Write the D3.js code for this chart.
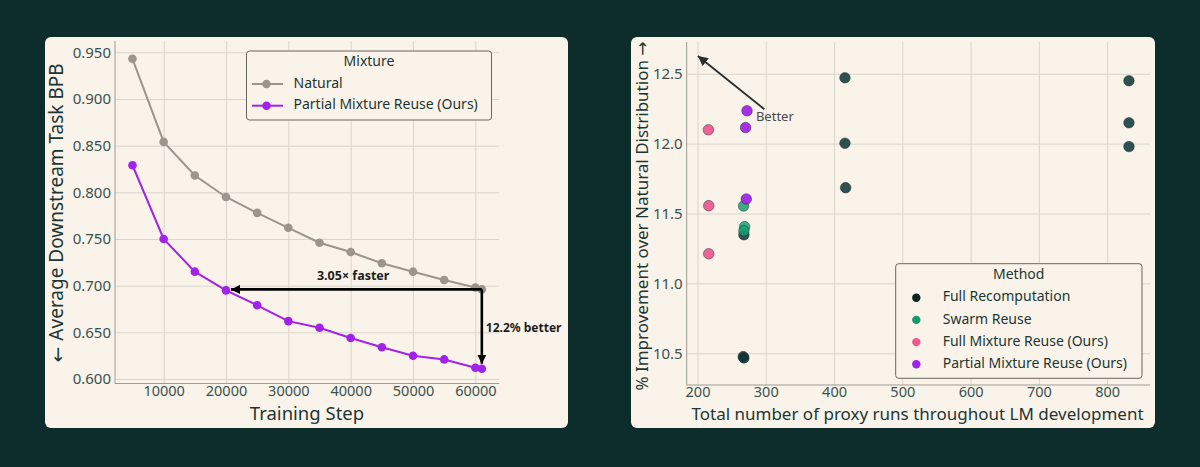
<!DOCTYPE html>
<html>
<head>
<meta charset="utf-8">
<script src="https://cdn.jsdelivr.net/npm/d3@7"></script>
<style>
  body { margin: 0; background: #0d2d2d; }
  text { font-family: "Noto Sans", sans-serif; }
</style>
</head>
<body>
<div id="plot"></div>
<script>
// ---- data: left chart (training curves)
const trainSteps = [5000, 10000, 15000, 20000, 25000, 30000, 35000, 40000, 45000, 50000, 55000, 60000, 61035];
const naturalBpb = [0.943, 0.854, 0.818, 0.795, 0.778, 0.762, 0.746, 0.736, 0.724, 0.715, 0.706, 0.698, 0.696];
const partialBpb = [0.829, 0.750, 0.715, 0.695, 0.679, 0.662, 0.655, 0.644, 0.634, 0.625, 0.621, 0.612, 0.611];
const stepTicks = [10000, 20000, 30000, 40000, 50000, 60000];
const bpbTicks = [0.60, 0.65, 0.70, 0.75, 0.80, 0.85, 0.90, 0.95];

// ---- data: right chart (proxy runs vs improvement)
const methods = ["Full Recomputation", "Swarm Reuse", "Full Mixture Reuse (Ours)", "Partial Mixture Reuse (Ours)"];
const fullRecompRuns = [416, 416, 417, 832, 832, 832, 268, 267, 268];
const fullRecompImpr = [12.471, 12.003, 11.685, 12.45, 12.149, 11.979, 11.348, 10.476, 10.467];
const swarmRuns = [267.5, 269, 268];
const swarmImpr = [11.554, 11.406, 11.377];
const fullMixRuns = [216, 216.5, 216.5];
const fullMixImpr = [12.099, 11.556, 11.212];
const partialMixRuns = [272.5, 270.5, 271.5];
const partialMixImpr = [12.235, 12.115, 11.604];
const runTicks = [200, 300, 400, 500, 600, 700, 800];
const imprTicks = [10.5, 11.0, 11.5, 12.0, 12.5];

const w = 1200;
const h = 467;
const cream = "#faf3ea";
const tickColor = "#38524f";
const titleColor = "#1c3633";
const gridColor = "#dad6cc";
const spineColor = "#9c9c94";

const svg = d3.select("div#plot")
    .append("svg")
    .attr("width", w)
    .attr("height", h);

svg.append("rect")
    .attr("width", w)
    .attr("height", h)
    .attr("fill", "#0d2d2d");

// panels
svg.append("rect").attr("x", 45).attr("y", 37).attr("width", 523).attr("height", 391)
    .attr("rx", 6).attr("fill", cream);
svg.append("rect").attr("x", 631).attr("y", 37).attr("width", 524).attr("height", 391)
    .attr("rx", 6).attr("fill", cream);

const defs = svg.append("defs");
function arrowHead(id, color, size) {
  defs.append("marker")
      .attr("id", id)
      .attr("viewBox", "0 0 10 10")
      .attr("refX", 10).attr("refY", 5)
      .attr("markerWidth", size).attr("markerHeight", size)
      .attr("markerUnits", "userSpaceOnUse")
      .attr("orient", "auto")
    .append("path")
      .attr("d", "M0,0 L10,5 L0,10 z")
      .attr("fill", color);
}
arrowHead("headBlack", "#000", 9);
arrowHead("headDark", "#2a2f2d", 10);

// generic frame: grid, spines, tick labels
function drawFrame(g, x, y, xTicks, yTicks, xFmt, yFmt) {
  const [x0, x1] = x.range();
  const [y0, y1] = y.range();

  g.append("g")
      .attr("transform", `translate(0, ${y0})`)
      .call(d3.axisBottom(x).tickValues(xTicks).tickSize(-(y0 - y1)).tickFormat(""))
      .call(a => a.select(".domain").remove())
      .call(a => a.selectAll("line").attr("stroke", gridColor));

  g.append("g")
      .attr("transform", `translate(${x0}, 0)`)
      .call(d3.axisLeft(y).tickValues(yTicks).tickSize(-(x1 - x0)).tickFormat(""))
      .call(a => a.select(".domain").remove())
      .call(a => a.selectAll("line").attr("stroke", gridColor));

  g.append("line").attr("x1", x0).attr("x2", x1).attr("y1", y0).attr("y2", y0)
      .attr("stroke", spineColor);
  g.append("line").attr("x1", x0).attr("x2", x0).attr("y1", y0).attr("y2", y1)
      .attr("stroke", spineColor);

  g.append("g")
      .attr("transform", `translate(0, ${y0})`)
      .call(d3.axisBottom(x).tickValues(xTicks).tickSize(0).tickPadding(2).tickFormat(xFmt))
      .call(a => a.select(".domain").remove())
      .call(a => a.selectAll("text").attr("fill", tickColor).style("font-size", "14.5px")
          .style("font-family", "'Noto Sans', sans-serif"));

  g.append("g")
      .attr("transform", `translate(${x0}, 0)`)
      .call(d3.axisLeft(y).tickValues(yTicks).tickSize(0).tickPadding(4).tickFormat(yFmt))
      .call(a => a.select(".domain").remove())
      .call(a => a.selectAll("text").attr("fill", tickColor).style("font-size", "15px")
          .style("font-family", "'Noto Sans', sans-serif"));
}

// text with an arrow glyph drawn in DejaVu (Noto's arrows are tiny)
function arrowTitle(sel, before, arrow, after) {
  if (before) sel.append("tspan").text(before);
  sel.append("tspan").style("font-family", "'DejaVu Sans', sans-serif").text(arrow);
  if (after) sel.append("tspan").text(after);
}

/////////////// left chart
const xL = d3.scaleLinear().domain([2198, 63837]).range([115, 499.3]);
const yL = d3.scaleLinear().domain([0.5952, 0.9621]).range([383.5, 41]);
const left = svg.append("g");
drawFrame(left, xL, yL, stepTicks, bpbTicks, d3.format("d"), d3.format(".3f"));

const lineL = d3.line().x((d, i) => xL(trainSteps[i])).y(d => yL(d));
const leftSeries = [
  {name: "Natural", values: naturalBpb, color: "#9a968e"},
  {name: "Partial Mixture Reuse (Ours)", values: partialBpb, color: "#a123ea"}
];

leftSeries.forEach(s => {
  left.append("path")
      .attr("d", lineL(s.values))
      .attr("fill", "none")
      .attr("stroke", s.color)
      .attr("stroke-width", 2);
  left.selectAll(null)
      .data(s.values)
    .enter().append("circle")
      .attr("cx", (d, i) => xL(trainSteps[i]))
      .attr("cy", d => yL(d))
      .attr("r", 4.3)
      .attr("fill", s.color);
});

// annotations
const lastStep = trainSteps[trainSteps.length - 1];
const lastNat = naturalBpb[naturalBpb.length - 1];
const lastPart = partialBpb[partialBpb.length - 1];
left.append("line")
    .attr("x1", xL(lastStep)).attr("y1", yL(lastNat))
    .attr("x2", xL(20000) + 5).attr("y2", yL(lastNat))
    .attr("stroke", "#000").attr("stroke-width", 2.6)
    .attr("marker-end", "url(#headBlack)");
left.append("line")
    .attr("x1", xL(lastStep)).attr("y1", yL(lastNat))
    .attr("x2", xL(lastStep)).attr("y2", yL(lastPart) - 5)
    .attr("stroke", "#000").attr("stroke-width", 2.6)
    .attr("marker-end", "url(#headBlack)");
left.append("text")
    .attr("x", xL(40400)).attr("y", yL(0.7095))
    .attr("text-anchor", "middle").attr("dominant-baseline", "middle")
    .attr("font-size", 12.5).attr("font-weight", "bold").attr("fill", "#1a1f1e")
    .text("3.05× faster");
left.append("text")
    .attr("x", xL(lastStep) + 4).attr("y", yL((lastNat + lastPart) / 2))
    .attr("dominant-baseline", "middle")
    .attr("font-size", 12).attr("font-weight", "bold").attr("fill", "#1a1f1e")
    .text("12.2% better");

// axis titles
left.append("text")
    .attr("x", 307).attr("y", 415).attr("text-anchor", "middle").attr("dominant-baseline", "middle")
    .attr("font-size", 18.5).attr("fill", titleColor)
    .text("Training Step");
left.append("text")
    .attr("transform", "translate(58, 213) rotate(-90)")
    .attr("text-anchor", "middle").attr("dominant-baseline", "middle")
    .attr("font-size", 19).attr("fill", titleColor)
    .call(arrowTitle, "", "← ", "Average Downstream Task BPB");

// legend
const legL = left.append("g").attr("transform", "translate(246.5, 51)");
legL.append("rect").attr("width", 245).attr("height", 69).attr("rx", 3)
    .attr("fill", cream).attr("stroke", "#67665f");
legL.append("text").attr("x", 122.5).attr("y", 11.5).attr("text-anchor", "middle")
    .attr("dominant-baseline", "middle").attr("font-size", 14).attr("fill", titleColor)
    .text("Mixture");
leftSeries.forEach((s, i) => {
  const ly = 33 + i * 21.7;
  legL.append("line").attr("x1", 5.5).attr("x2", 36.5).attr("y1", ly).attr("y2", ly)
      .attr("stroke", s.color).attr("stroke-width", 2);
  legL.append("circle").attr("cx", 20).attr("cy", ly).attr("r", 4.3).attr("fill", s.color);
  legL.append("text").attr("x", 47).attr("y", ly).attr("dominant-baseline", "middle")
      .attr("font-size", 14).attr("fill", titleColor).text(s.name);
});

/////////////// right chart
const xR = d3.scaleLinear().domain([184.2, 862.8]).range([686.7, 1150]);
const yR = d3.scaleLinear().domain([10.273, 12.727]).range([385, 42]);
const right = svg.append("g");
drawFrame(right, xR, yR, runTicks, imprTicks, d3.format("d"), d3.format(".1f"));

const rightSeries = [
  {name: methods[0], runs: fullRecompRuns, impr: fullRecompImpr, color: "#0a3235", legend: "#0c231f", op: 0.85},
  {name: methods[1], runs: swarmRuns, impr: swarmImpr, color: "#159f72", legend: "#14996c", op: 0.85},
  {name: methods[2], runs: fullMixRuns, impr: fullMixImpr, color: "#ec5a92", legend: "#ec5a92", op: 0.95},
  {name: methods[3], runs: partialMixRuns, impr: partialMixImpr, color: "#a024ea", legend: "#a024ea", op: 0.95}
];

rightSeries.forEach(s => {
  right.selectAll(null)
      .data(s.impr)
    .enter().append("circle")
      .attr("cx", (d, i) => xR(s.runs[i]))
      .attr("cy", d => yR(d))
      .attr("r", 5.3)
      .attr("fill", s.color)
      .attr("fill-opacity", s.op)
      .attr("stroke", "#2c2a2c")
      .attr("stroke-opacity", 0.6)
      .attr("stroke-width", 0.8);
});

// "Better" arrow
right.append("line")
    .attr("x1", xR(298)).attr("y1", yR(12.246))
    .attr("x2", xR(200.6)).attr("y2", yR(12.627))
    .attr("stroke", "#2a2f2d").attr("stroke-width", 1.8)
    .attr("marker-end", "url(#headDark)");
right.append("text")
    .attr("x", xR(285.6)).attr("y", yR(12.19))
    .attr("dominant-baseline", "middle")
    .attr("font-size", 13).attr("fill", "#4a4a46")
    .text("Better");

right.append("text")
    .attr("x", 917.5).attr("y", 415).attr("text-anchor", "middle").attr("dominant-baseline", "middle")
    .attr("font-size", 17).attr("fill", titleColor)
    .text("Total number of proxy runs throughout LM development");
right.append("text")
    .attr("transform", "translate(643, 216) rotate(-90)")
    .attr("text-anchor", "middle").attr("dominant-baseline", "middle")
    .attr("font-size", 17).attr("fill", titleColor)
    .call(arrowTitle, "% Improvement over Natural Distribution ", "→", "");

const legR = right.append("g").attr("transform", "translate(895.7, 263.7)");
legR.append("rect").attr("width", 246.3).attr("height", 114.6).attr("rx", 3)
    .attr("fill", cream).attr("stroke", "#67665f");
legR.append("text").attr("x", 123).attr("y", 12).attr("text-anchor", "middle")
    .attr("dominant-baseline", "middle").attr("font-size", 14).attr("fill", titleColor)
    .text("Method");
rightSeries.forEach((s, i) => {
  const ly = 34 + i * 22.2;
  legR.append("circle").attr("cx", 20.6).attr("cy", ly).attr("r", 4.2).attr("fill", s.legend);
  legR.append("text").attr("x", 47).attr("y", ly).attr("dominant-baseline", "middle")
      .attr("font-size", 14).attr("fill", titleColor).text(s.name);
});
</script>
</body>
</html>
